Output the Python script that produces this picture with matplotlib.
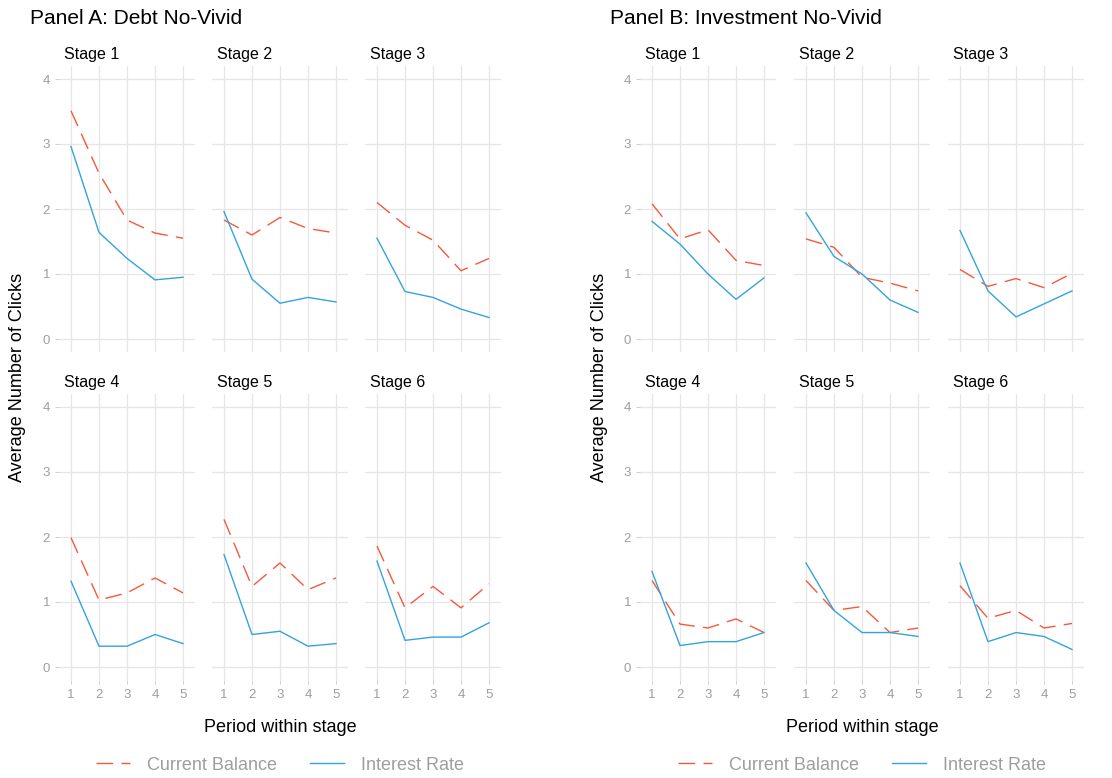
import numpy as np
import matplotlib
matplotlib.use("Agg")
import matplotlib.pyplot as plt
from matplotlib.lines import Line2D

plt.rcParams['font.family'] = ['Liberation Sans', 'DejaVu Sans']

# datos
periodos = [1, 2, 3, 4, 5]
etapas = ['Stage 1', 'Stage 2', 'Stage 3', 'Stage 4', 'Stage 5', 'Stage 6']

# Panel A: Debt No-Vivid
cb_debt = [
    [3.51, 2.55, 1.83, 1.63, 1.55],
    [1.83, 1.60, 1.87, 1.70, 1.63],
    [2.10, 1.75, 1.52, 1.05, 1.24],
    [1.99, 1.03, 1.14, 1.37, 1.14],
    [2.27, 1.24, 1.60, 1.19, 1.37],
    [1.86, 0.91, 1.24, 0.91, 1.28],
]
ir_debt = [
    [2.96, 1.64, 1.24, 0.91, 0.95],
    [1.96, 0.92, 0.55, 0.64, 0.57],
    [1.55, 0.73, 0.64, 0.46, 0.33],
    [1.32, 0.32, 0.32, 0.50, 0.36],
    [1.73, 0.50, 0.55, 0.32, 0.36],
    [1.63, 0.41, 0.46, 0.46, 0.68],
]

# Panel B: Investment No-Vivid
cb_inv = [
    [2.08, 1.54, 1.68, 1.21, 1.13],
    [1.54, 1.41, 0.95, 0.86, 0.74],
    [1.07, 0.81, 0.93, 0.79, 1.01],
    [1.33, 0.66, 0.60, 0.74, 0.53],
    [1.33, 0.87, 0.93, 0.53, 0.60],
    [1.25, 0.75, 0.87, 0.60, 0.67],
]
ir_inv = [
    [1.81, 1.46, 1.00, 0.61, 0.94],
    [1.94, 1.27, 1.00, 0.60, 0.41],
    [1.67, 0.74, 0.34, 0.54, 0.74],
    [1.47, 0.33, 0.39, 0.39, 0.53],
    [1.60, 0.87, 0.53, 0.53, 0.47],
    [1.60, 0.39, 0.53, 0.47, 0.27],
]

paneles = [
    ('Panel A: Debt No-Vivid', cb_debt, ir_debt),
    ('Panel B: Investment No-Vivid', cb_inv, ir_inv),
]

rojo = '#F4593C'
azul = '#35A3DC'
gris_grid = '#E6E6E6'
gris_txt = '#9E9E9E'

W, H = 1112, 778
fig = plt.figure(figsize=(W / 100, H / 100), dpi=100)


def caja(izq, arriba, ancho, alto):
    return [izq / W, 1 - (arriba + alto) / H, ancho / W, alto / H]


lefts = [[59, 212, 365], [640, 794, 948]]
tops = [66, 394]
ancho, alto = 136, 286
titulo_x = [30, 610]

for p, (titulo, cb, ir) in enumerate(paneles):
    fig.text(titulo_x[p] / W, 1 - 18 / H, titulo, fontsize=15, va='center', ha='left')
    for k in range(6):
        fila, col = k // 3, k % 3
        ax = fig.add_axes(caja(lefts[p][col], tops[fila], ancho, alto))
        ax.plot(periodos, cb[k], color=rojo, lw=1.0, dashes=(12, 6))
        ax.plot(periodos, ir[k], color=azul, lw=1.0)
        ax.set_xlim(1 - 12 / 28, 5 + 12 / 28)
        ax.set_ylim(-0.2, 4.2)
        ax.set_xticks(periodos)
        ax.set_yticks([0, 1, 2, 3, 4])
        ax.grid(True, color=gris_grid, lw=0.9)
        ax.set_axisbelow(True)
        for s in ax.spines.values():
            s.set_visible(False)
        ax.tick_params(colors='#C8C8C8', labelcolor=gris_txt, labelsize=9.5, length=3, width=0.6)
        if fila == 0:
            ax.tick_params(axis='x', labelbottom=False, length=0)
        if col != 0:
            ax.tick_params(axis='y', labelleft=False, length=0)
        fig.text((lefts[p][col] + 5) / W, 1 - (tops[fila] - 11) / H, etapas[k],
                 fontsize=11.5, va='center', ha='left')

    fig.text((lefts[p][0] - 41) / W, 1 - 377 / H, 'Average Number of Clicks',
             rotation=90, fontsize=13, va='center', ha='center')
    centro = lefts[p][1] + ancho / 2
    fig.text(centro / W, 1 - 727 / H, 'Period within stage', fontsize=13, va='center', ha='center')

    manejadores = [Line2D([], [], color=rojo, lw=1.0, dashes=(12, 6)),
                   Line2D([], [], color=azul, lw=1.0)]
    leg = fig.legend(manejadores, ['Current Balance', 'Interest Rate'], ncol=2,
                     loc='center', bbox_to_anchor=(centro / W, 1 - 765 / H),
                     frameon=False, fontsize=13, handlelength=1.9, handletextpad=0.95,
                     columnspacing=1.8)
    for t in leg.get_texts():
        t.set_color(gris_txt)

plt.savefig('out.png', dpi=100)
